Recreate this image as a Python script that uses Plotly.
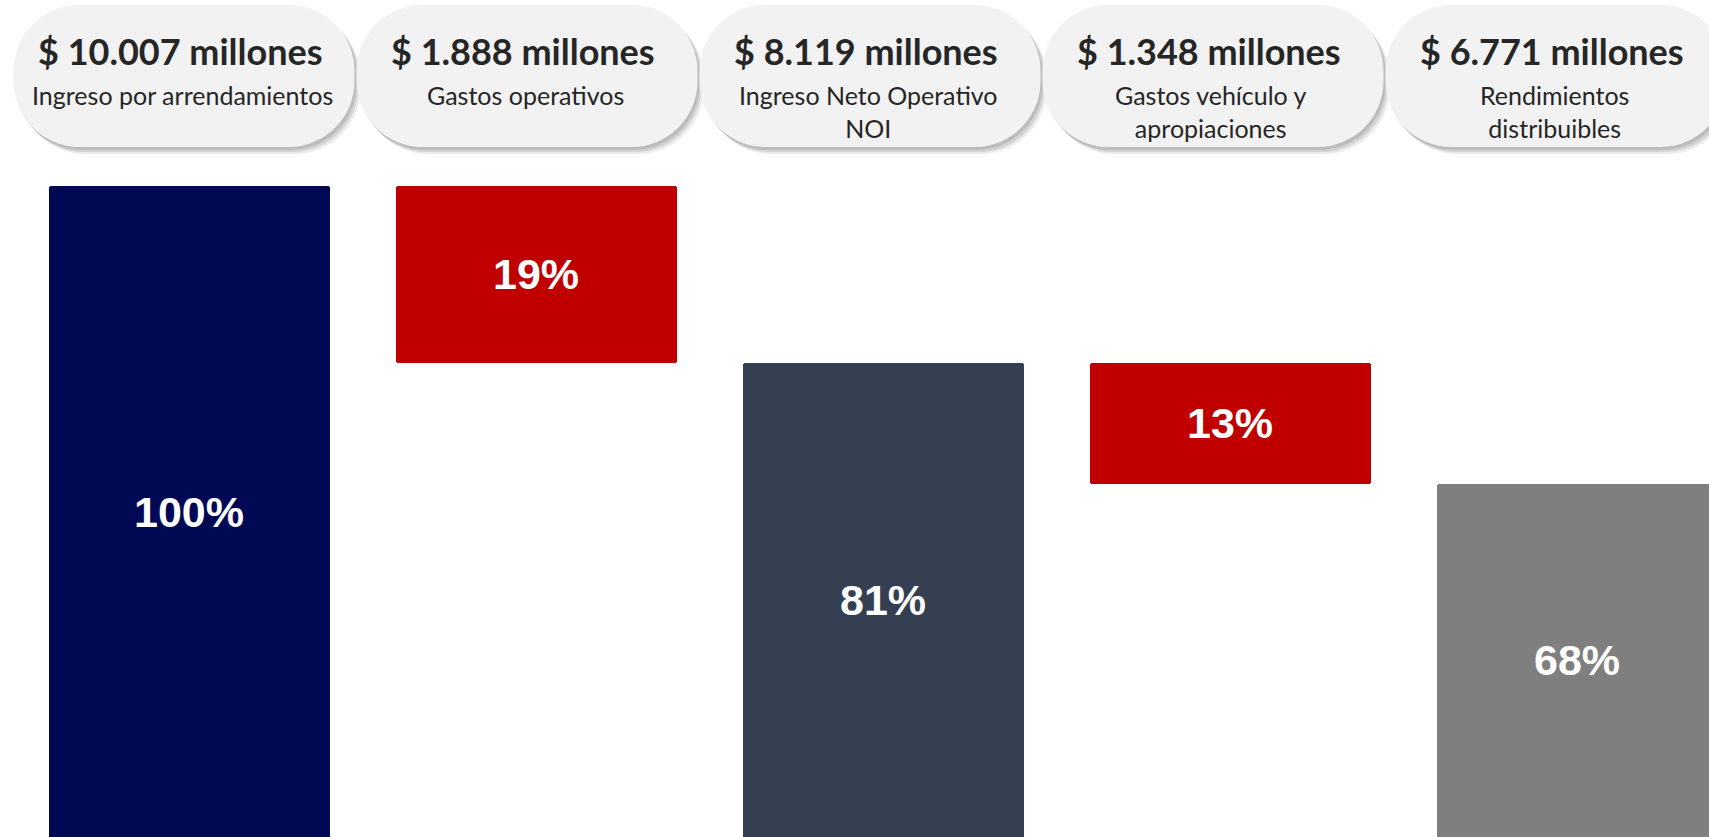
import plotly.graph_objects as go

# ---- data ----
categories = ["Ingreso por arrendamientos", "Gastos operativos", "Ingreso Neto Operativo NOI",
              "Gastos vehículo y apropiaciones", "Rendimientos distribuibles"]
amounts = ["$ 10.007 millones", "$ 1.888 millones", "$ 8.119 millones",
           "$ 1.348 millones", "$ 6.771 millones"]
subtitles = ["Ingreso por arrendamientos", "Gastos operativos", "Ingreso Neto Operativo<br>NOI",
             "Gastos vehículo y<br>apropiaciones", "Rendimientos<br>distribuibles"]
percentages = [100, 19, 81, 13, 68]
kinds = ["total", "decrease", "total", "decrease", "total"]

# ---- style ----
bar_colors = ["#010954", "#C00000", "#343F51", "#C00000", "#7F7F7F"]
W, H = 1709, 837
Y_MIN, Y_MAX = 30, 120

# waterfall bases derived from the data
bases = []
running = 0
for v, k in zip(percentages, kinds):
    if k == "total":
        bases.append(0)
        running = v
    else:
        running -= v
        bases.append(running)

fig = go.Figure()
fig.add_trace(go.Bar(
    x=categories, y=percentages, base=bases,
    marker=dict(color=bar_colors, line=dict(width=0), cornerradius=3),
    width=0.81, hoverinfo="skip", showlegend=False,
))

annotations = []
# percentage labels centred in the visible part of each bar
for c, v, b in zip(categories, percentages, bases):
    lo = max(b, Y_MIN)
    hi = min(b + v, Y_MAX)
    annotations.append(dict(
        x=c, y=(lo + hi) / 2, xref="x", yref="y", text=f"<b>{v}%</b>",
        showarrow=False, font=dict(family="Liberation Sans, Arial, sans-serif", size=43, color="white"),
        xanchor="center", yanchor="middle",
    ))

# pill headers
def px2paper(x, y):
    return x / W, 1 - y / H

def rounded_path(x0, y0, x1, y1, rx, ry):
    k = 0.5523
    def P(x, y):
        a, b = px2paper(x, y)
        return f"{a:.5f},{b:.5f}"
    s = f"M {P(x0+rx, y0)} L {P(x1-rx, y0)} "
    s += f"C {P(x1-rx+k*rx, y0)} {P(x1, y0+ry-k*ry)} {P(x1, y0+ry)} "
    s += f"L {P(x1, y1-ry)} "
    s += f"C {P(x1, y1-ry+k*ry)} {P(x1-rx+k*rx, y1)} {P(x1-rx, y1)} "
    s += f"L {P(x0+rx, y1)} "
    s += f"C {P(x0+rx-k*rx, y1)} {P(x0, y1-ry+k*ry)} {P(x0, y1-ry)} "
    s += f"L {P(x0, y0+ry)} "
    s += f"C {P(x0, y0+ry-k*ry)} {P(x0+rx-k*rx, y0)} {P(x0+rx, y0)} Z"
    return s

shapes = []
pill_w, pill_top, pill_bot = 341, 5, 147
for i, (amt, sub) in enumerate(zip(amounts, subtitles)):
    cx = 184 + 343 * i
    x0, x1 = cx - pill_w / 2, cx + pill_w / 2
    for dx, dy, a in [(2, 3, 0.10), (4, 5, 0.10), (6, 7, 0.08)]:
        shapes.append(dict(type="path", xref="paper", yref="paper",
                           path=rounded_path(x0 + dx, pill_top + dy, x1 + dx, pill_bot + dy, 66, 66),
                           fillcolor=f"rgba(0,0,0,{a})", line=dict(width=0), layer="above"))
    shapes.append(dict(type="path", xref="paper", yref="paper",
                       path=rounded_path(x0, pill_top, x1, pill_bot, 66, 66),
                       fillcolor="#F2F2F2", line=dict(width=0), layer="above"))
    tx, ty = px2paper(cx - 4, 51)
    annotations.append(dict(x=tx, y=ty, xref="paper", yref="paper", text=f"<b>{amt}</b>",
                            showarrow=False, xanchor="center", yanchor="middle",
                            font=dict(family="Lato, sans-serif", size=36, color="#262626")))
    sx, sy = px2paper(cx - 2, 78)
    annotations.append(dict(x=sx, y=sy, xref="paper", yref="paper", text=sub,
                            showarrow=False, xanchor="center", yanchor="top",
                            font=dict(family="Lato, sans-serif", size=25, color="#262626")))

fig.update_layout(
    width=W, height=H, margin=dict(l=0, r=0, t=0, b=0),
    paper_bgcolor="white", plot_bgcolor="white",
    xaxis=dict(visible=False, type="category", range=[-0.545, 4.38]),
    yaxis=dict(visible=False, range=[Y_MIN, Y_MAX]),
    shapes=shapes, annotations=annotations, bargap=0,
)

fig.write_html("out.html", config={"displayModeBar": False},
               post_script="document.body.style.margin='0';document.body.style.overflow='hidden';")
